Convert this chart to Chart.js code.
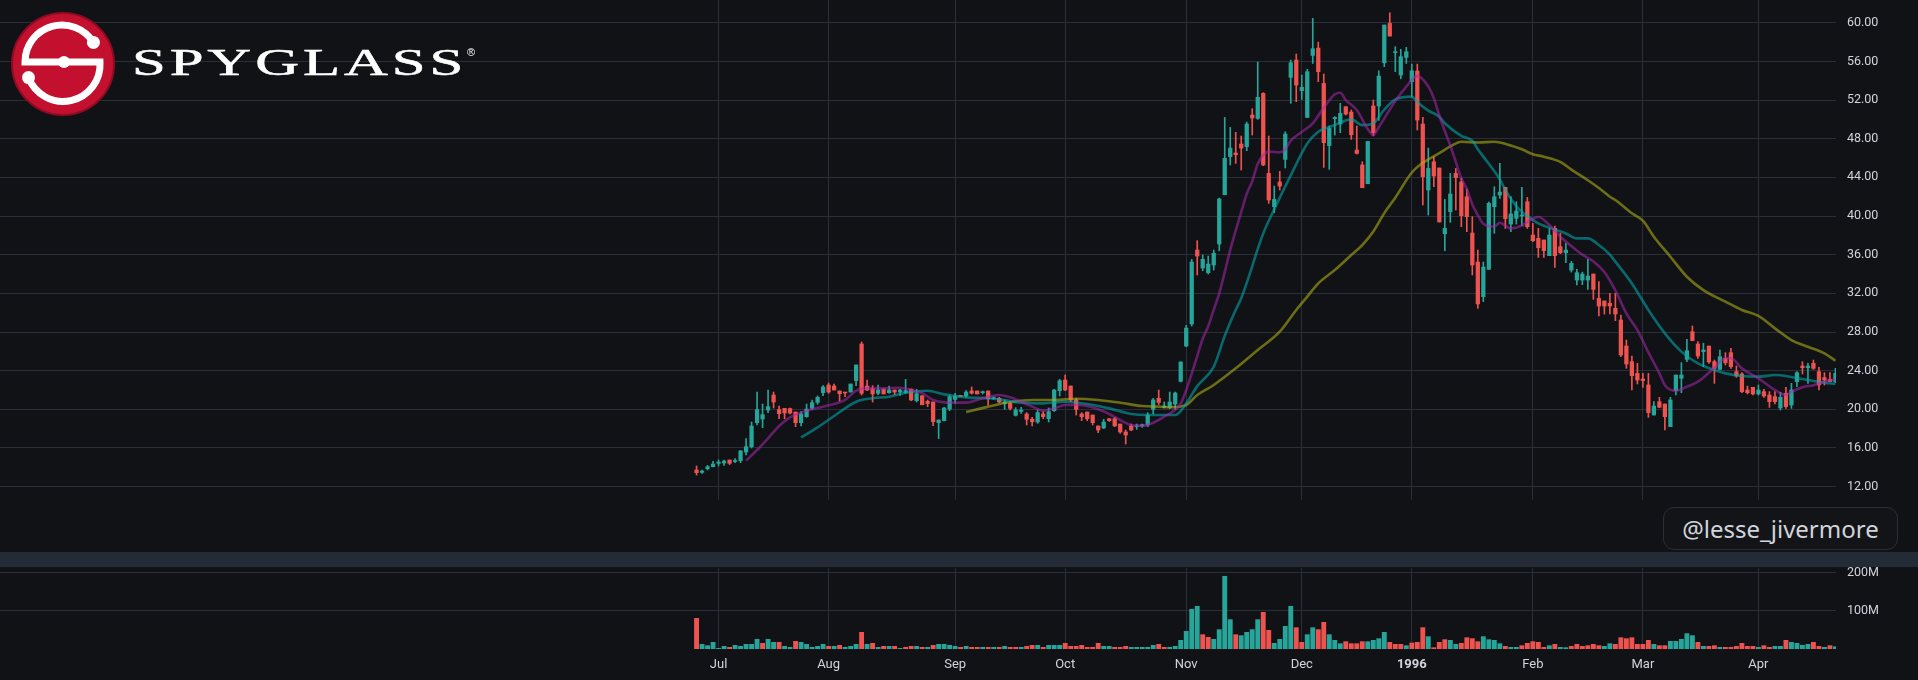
<!DOCTYPE html>
<html>
<head>
<meta charset="utf-8">
<title>SPYG 1995-96</title>
<script src="https://cdn.jsdelivr.net/npm/chart.js@4.4.1/dist/chart.umd.min.js"></script>
<style>
  html, body { margin: 0; padding: 0; width: 1918px; height: 680px; overflow: hidden; background: #111216; }
  .layer { position: absolute; left: 0; }
  #band { position: absolute; left: 0; top: 552px; width: 1918px; height: 15px; background: #252a37; }
  #tag {
    position: absolute; left: 1663px; top: 507px; width: 233px; height: 41px;
    border: 1px solid #2b2e38; border-radius: 11px; background: #131418;
    color: #d1d4dc; font: 24px "Noto Sans", sans-serif;
    display: flex; align-items: center; justify-content: center;
  }
  #logo { position: absolute; left: 0; top: 0; }
</style>
</head>
<body>
<div id="band"></div>
<canvas id="price" class="layer" style="top:0" width="1918" height="500"></canvas>
<canvas id="volume" class="layer" style="top:566px" width="1918" height="114"></canvas>

<svg id="logo" width="500" height="125">
  <circle cx="63" cy="64" r="51" fill="#c3102f" stroke="#8e0b22" stroke-width="2"/>
  <path d="M93.4,42.4 A37,37 0 0 0 25,62 L100,62 A37,37 0 0 1 28.5,77.6"
        fill="none" stroke="#fff" stroke-width="7"/>
  <circle cx="93.4" cy="42.4" r="6.5" fill="#fff"/>
  <circle cx="28.5" cy="77.6" r="6.5" fill="#fff"/>
  <circle cx="64" cy="62" r="6" fill="#fff"/>
  <text transform="translate(132,75) scale(1.6,1)" x="0" y="0" font-family="Liberation Serif"
        font-size="38" fill="#fff" stroke="#fff" stroke-width="0.5"
        textLength="207" lengthAdjust="spacing">SPYGLASS</text>
  <text x="467" y="56" font-family="Liberation Sans" font-size="11" fill="#fff">®</text>
</svg>

<div id="tag">@lesse_jivermore</div>

<script>
// Daily candles, trading day 0 = first session (late June 1995)
const opens = [
  13.72, 13.48, 13.86, 14.07, 14.41, 14.45, 14.76, 14.6, 14.69, 15.59,
  16.14, 18.62, 19.0, 19.93, 21.48, 19.97, 20.1, 20.07, 19.72, 18.62,
  19.24, 20.1, 20.72, 21.72, 22.52, 22.41, 21.9, 21.76, 21.79, 22.97,
  26.76, 22.41, 22.14, 21.66, 22.1, 21.72, 22.0, 21.79, 21.72, 22.1,
  20.9, 21.41, 20.83, 20.76, 18.62, 18.83, 20.03, 21.03, 21.45, 21.38,
  21.9, 21.9, 21.72, 21.9, 21.1, 21.14, 20.62, 20.62, 19.38, 19.79,
  19.52, 18.97, 18.69, 19.52, 19.03, 19.86, 21.93, 23.03, 22.41, 20.97,
  19.52, 19.72, 19.41, 18.28, 18.07, 19.03, 19.03, 18.48, 17.66, 18.28,
  18.21, 18.28, 18.38, 20.0, 21.14, 20.2, 20.21, 20.55, 22.9, 26.55,
  28.83, 36.48, 34.62, 34.14, 34.93, 37.1, 42.2, 46.14, 46.52, 47.45,
  47.17, 50.45, 50.1, 52.69, 44.41, 40.97, 43.52, 45.86, 54.34, 56.14,
  52.97, 50.2, 56.62, 57.38, 53.72, 47.28, 50.07, 49.52, 51.31, 50.76,
  46.83, 45.28, 43.34, 51.38, 51.38, 55.86, 59.93, 56.9, 54.59, 56.41,
  53.9, 55.0, 49.52, 42.69, 45.62, 44.97, 38.17, 40.45, 44.41, 43.52,
  42.0, 38.24, 35.24, 31.66, 34.48, 40.97, 42.17, 42.97, 39.17, 39.76,
  40.0, 41.48, 38.03, 37.69, 37.52, 35.9, 38.72, 36.83, 36.21, 34.41,
  33.38, 33.38, 33.38, 34.0, 31.48, 31.21, 30.97, 30.45, 29.24, 26.55,
  24.93, 23.72, 23.14, 22.52, 19.41, 20.79, 20.55, 18.21, 21.93, 23.21,
  25.17, 28.03, 26.76, 25.97, 26.55, 24.93, 24.14, 25.28, 25.86, 23.9,
  23.66, 22.0, 22.28, 21.59, 21.83, 21.48, 21.31, 20.14, 21.66, 20.45,
  22.86, 24.48, 24.31, 24.76, 23.9, 23.28, 23.1, 22.86
];
const highs = [
  14.14, 13.72, 14.2, 14.62, 14.76, 14.76, 14.76, 14.9, 15.76, 16.97,
  18.69, 21.79, 20.55, 22.0, 21.79, 20.34, 20.1, 20.14, 19.72, 19.76,
  20.55, 20.97, 21.38, 22.45, 22.72, 22.62, 21.9, 21.76, 22.62, 24.59,
  26.97, 23.03, 22.45, 22.52, 22.1, 22.41, 22.0, 22.07, 23.1, 22.1,
  22.07, 21.41, 20.97, 20.76, 18.9, 20.21, 21.48, 21.66, 21.45, 21.93,
  22.31, 21.9, 21.9, 21.9, 21.31, 21.24, 20.97, 20.79, 20.17, 20.21,
  19.66, 19.17, 19.93, 19.76, 20.14, 22.07, 23.1, 23.55, 22.41, 21.14,
  19.66, 19.72, 19.41, 18.28, 18.97, 19.03, 19.17, 18.48, 17.86, 18.48,
  18.48, 18.48, 19.66, 21.14, 22.0, 20.76, 21.79, 21.79, 24.9, 28.69,
  35.52, 37.45, 35.97, 35.86, 36.48, 41.86, 50.2, 49.17, 48.66, 48.28,
  49.72, 51.1, 55.93, 52.76, 48.28, 43.1, 44.62, 48.72, 56.14, 56.76,
  54.59, 55.17, 60.45, 58.0, 54.69, 49.31, 50.28, 51.66, 51.31, 50.97,
  49.31, 45.62, 47.72, 52.0, 55.03, 59.76, 61.03, 57.52, 57.24, 57.45,
  55.72, 55.72, 50.21, 47.03, 46.14, 44.97, 41.72, 44.41, 44.93, 43.9,
  42.76, 39.93, 36.48, 35.24, 41.45, 43.03, 45.45, 42.97, 42.0, 41.48,
  42.97, 41.93, 39.24, 38.72, 37.52, 38.72, 38.97, 38.21, 37.17, 35.3,
  34.48, 34.2, 35.52, 34.0, 33.21, 31.21, 32.0, 32.0, 29.76, 27.17,
  25.52, 24.76, 23.72, 23.72, 20.79, 21.24, 20.55, 21.24, 23.55, 24.83,
  27.24, 28.62, 27.0, 26.83, 26.55, 25.1, 26.14, 25.86, 26.31, 24.48,
  23.79, 22.41, 22.28, 22.52, 22.07, 21.83, 21.83, 21.76, 22.28, 22.69,
  23.9, 24.93, 24.76, 25.1, 24.34, 23.79, 23.79, 24.24
];
const lows = [
  13.2, 13.38, 13.72, 14.03, 14.14, 14.2, 14.28, 14.48, 14.48, 15.28,
  16.0, 18.38, 18.1, 19.66, 20.14, 19.03, 19.03, 19.52, 18.2, 18.28,
  19.17, 20.0, 20.52, 21.41, 21.66, 22.0, 20.86, 21.31, 21.79, 22.45,
  21.48, 21.93, 20.76, 21.52, 21.59, 21.66, 21.52, 21.45, 21.66, 20.9,
  20.76, 20.45, 20.28, 18.31, 16.97, 18.79, 19.86, 20.62, 21.31, 21.24,
  21.59, 21.59, 21.59, 20.45, 21.03, 20.69, 20.0, 19.93, 19.31, 19.59,
  18.38, 18.28, 18.55, 19.03, 18.69, 19.79, 21.38, 21.93, 20.79, 19.41,
  18.83, 18.83, 18.38, 17.59, 18.0, 18.76, 18.21, 17.52, 16.41, 17.79,
  17.93, 18.14, 18.21, 19.52, 20.5, 20.14, 20.07, 20.0, 22.83, 26.48,
  28.62, 33.9, 34.34, 34.0, 34.41, 36.41, 42.2, 45.28, 45.45, 44.76,
  46.76, 48.38, 50.0, 45.21, 41.31, 40.34, 42.69, 44.97, 51.66, 51.83,
  52.07, 50.2, 55.79, 53.9, 45.03, 44.83, 48.38, 48.62, 50.45, 47.93,
  46.41, 42.93, 43.34, 48.28, 49.9, 55.45, 58.62, 54.93, 54.2, 55.79,
  52.34, 48.9, 41.14, 40.1, 43.03, 39.38, 36.41, 39.34, 40.62, 38.9,
  38.38, 33.9, 30.45, 31.14, 34.48, 38.21, 41.83, 38.72, 38.38, 39.17,
  39.0, 38.72, 37.34, 35.72, 35.72, 35.9, 34.69, 36.1, 35.17, 34.2,
  32.86, 32.9, 32.41, 31.38, 29.66, 29.86, 29.86, 29.17, 25.45, 24.24,
  22.0, 22.62, 22.28, 19.17, 19.41, 20.21, 17.86, 18.21, 21.48, 21.72,
  24.93, 27.1, 25.28, 24.41, 24.76, 22.69, 24.07, 24.59, 24.24, 23.31,
  21.72, 21.59, 21.48, 21.48, 21.24, 20.21, 20.55, 19.93, 20.1, 20.1,
  22.34, 23.66, 22.69, 24.14, 22.0, 22.52, 22.86, 22.76
];
const closes = [
  13.45, 13.62, 14.07, 14.34, 14.55, 14.65, 14.41, 14.66, 15.69, 16.14,
  18.28, 19.97, 19.45, 20.28, 20.76, 19.55, 19.62, 19.62, 18.62, 19.52,
  20.03, 20.69, 21.24, 22.31, 21.79, 22.0, 21.62, 21.69, 22.62, 24.59,
  21.66, 22.0, 21.59, 22.0, 21.59, 22.0, 21.79, 22.0, 21.93, 20.97,
  21.62, 20.48, 20.59, 18.72, 18.9, 20.14, 21.31, 21.38, 21.31, 21.79,
  21.66, 21.59, 21.79, 21.1, 21.2, 20.76, 20.76, 20.1, 19.93, 19.93,
  18.97, 18.72, 19.66, 19.24, 19.76, 22.0, 22.97, 22.0, 20.97, 20.0,
  19.24, 19.03, 18.62, 17.86, 18.69, 18.83, 18.28, 17.66, 17.34, 17.86,
  18.28, 18.41, 19.41, 20.97, 20.72, 20.34, 20.76, 21.69, 24.9, 28.41,
  35.24, 35.86, 35.52, 35.03, 36.14, 41.76, 45.97, 47.03, 46.34, 47.03,
  49.52, 50.14, 52.28, 45.28, 41.66, 41.72, 43.1, 48.48, 55.86, 53.55,
  53.31, 54.93, 57.31, 54.93, 47.59, 49.07, 50.2, 50.62, 50.55, 48.41,
  46.48, 42.93, 47.72, 48.62, 54.48, 59.76, 58.62, 56.97, 56.48, 57.0,
  55.03, 49.93, 44.07, 44.93, 44.14, 39.38, 38.72, 42.28, 43.97, 40.03,
  39.93, 34.93, 30.9, 34.72, 41.31, 42.0, 42.48, 39.72, 40.21, 40.52,
  40.07, 38.9, 37.45, 36.72, 36.41, 38.03, 35.9, 36.21, 36.48, 35.1,
  34.14, 34.0, 33.79, 32.41, 30.69, 30.69, 30.69, 29.86, 25.62, 24.69,
  23.48, 23.03, 22.97, 19.66, 20.34, 20.21, 19.24, 20.97, 23.55, 23.55,
  26.07, 27.1, 25.52, 26.14, 24.9, 24.24, 25.45, 24.83, 24.41, 23.45,
  21.83, 21.72, 21.59, 22.0, 21.38, 20.79, 20.79, 21.24, 20.28, 22.0,
  23.79, 24.31, 24.48, 24.24, 22.52, 23.03, 22.86, 23.72
];
// volume in millions of shares
const volumes = [
  80.7, 12.3, 8.8, 17.5, 1.8, 7.0, 4.4, 9.6, 7.0, 12.3,
  12.3, 25.4, 14.9, 25.4, 17.5, 17.5, 7.0, 4.4, 20.2, 17.5,
  12.3, 4.4, 7.0, 12.3, 7.0, 7.0, 9.6, 4.4, 7.0, 12.3,
  43.9, 12.3, 14.9, 4.4, 7.0, 7.0, 7.0, 1.8, 4.4, 7.0,
  7.0, 4.4, 4.4, 9.6, 12.3, 12.3, 9.6, 7.0, 4.4, 7.0,
  4.4, 4.4, 4.4, 4.4, 4.4, 4.4, 7.0, 4.4, 4.4, 4.4,
  7.0, 9.6, 9.6, 4.4, 9.6, 9.6, 9.6, 14.9, 7.0, 7.0,
  9.6, 4.4, 4.4, 14.9, 7.0, 7.0, 4.4, 4.4, 7.0, 4.4,
  4.4, 4.4, 4.4, 9.6, 12.3, 4.4, 4.4, 7.0, 22.8, 46.5,
  104.4, 112.3, 37.7, 30.7, 25.4, 50.9, 191.2, 77.2, 37.7, 35.1,
  43.9, 50.9, 77.2, 96.5, 49.1, 14.9, 25.4, 59.6, 112.3, 56.1,
  17.5, 37.7, 56.1, 50.9, 70.2, 37.7, 22.8, 14.0, 19.3, 14.0,
  14.0, 19.3, 19.3, 22.8, 27.2, 43.9, 17.5, 12.3, 12.3, 8.8,
  15.8, 17.5, 56.1, 32.5, 3.5, 17.5, 24.6, 22.8, 12.3, 14.9,
  29.8, 27.2, 19.3, 32.5, 24.6, 22.8, 14.0, 7.0, 4.4, 4.4,
  8.8, 14.9, 19.3, 17.5, 4.4, 8.8, 12.3, 4.4, 3.5, 7.0,
  12.3, 7.0, 8.8, 12.3, 8.8, 7.0, 14.0, 12.3, 29.8, 27.2,
  29.8, 12.3, 12.3, 22.8, 12.3, 8.8, 8.8, 20.2, 20.2, 25.4,
  40.4, 35.1, 17.5, 7.0, 7.0, 8.8, 4.4, 4.4, 4.4, 7.0,
  14.9, 7.0, 7.0, 4.4, 8.8, 4.4, 7.0, 7.0, 22.8, 17.5,
  14.9, 9.6, 12.3, 17.5, 7.0, 4.4, 8.8, 6.0
];

// moving averages (trading day, value)
const ma10Days = [9, 11, 13, 15, 17, 19, 21, 24, 27, 29, 31, 34, 37, 39, 41, 43, 45, 47, 49, 51,
  53, 55, 57, 59, 61, 63, 65, 67, 69, 71, 73, 75, 77, 79, 81, 83, 85, 88, 89, 90,
  91, 92, 93, 94, 95, 96, 97, 98, 99, 100, 101, 102, 103, 104, 106, 107, 108, 110, 112, 114,
  116, 117, 118, 120, 122, 123, 124, 127, 129, 131, 133, 134, 135, 136, 137, 138, 139, 140, 141, 142,
  143, 145, 146, 148, 150, 151, 153, 155, 157, 159, 161, 163, 165, 167, 169, 171, 173, 175, 176, 178,
  180, 182, 185, 187, 188, 190, 193, 194, 196, 198, 199, 201, 203, 205, 207];
const ma10Values = [14.69, 15.79, 17.0, 18.28, 19.17, 19.66, 20.0, 20.41, 20.97, 21.93, 22.17, 22.17, 22.24, 22.0, 21.66, 20.97, 20.72, 20.69, 20.69, 20.97,
  21.31, 21.48, 21.24, 20.79, 20.28, 19.86, 20.1, 20.45, 20.45, 20.34, 20.0, 19.52, 18.9, 18.38, 18.31, 18.62, 19.24, 20.6, 22.0, 23.7,
  25.5, 27.3, 28.6, 30.3, 32.0, 34.2, 36.5, 38.5, 40.4, 42.3, 43.6, 45.4, 46.3, 46.66, 46.6, 46.9, 47.8, 48.7, 49.59, 51.2,
  52.6, 52.76, 52.0, 50.97, 49.0, 48.38, 49.2, 51.9, 53.38, 54.5, 53.4, 52.2, 50.4, 48.8, 47.3, 45.6, 43.9, 42.8, 41.2, 40.1,
  39.2, 38.9, 39.3, 38.72, 39.0, 39.4, 39.9, 39.07, 37.86, 36.9, 36.0, 35.3, 34.2, 32.3, 29.93, 28.2, 25.9, 23.72, 22.5, 21.93,
  22.34, 22.86, 24.3, 25.28, 25.28, 24.24, 23.2, 22.8, 22.0, 21.48, 21.8, 22.28, 22.5, 22.86, 23.1];

const ma20Days = [19, 22, 25, 29, 32, 35, 38, 42, 45, 49, 53, 55, 59, 63, 67, 71, 75, 79, 82, 85,
  87, 89, 91, 94, 96, 98, 99, 101, 102, 103, 105, 108, 111, 113, 116, 119, 121, 123, 125, 127,
  130, 131, 133, 135, 136, 139, 141, 142, 144, 146, 147, 149, 150, 152, 153, 156, 158, 160, 162, 164,
  166, 167, 170, 173, 176, 179, 182, 185, 187, 190, 193, 196, 199, 202, 205, 207];
const ma20Values = [17.1, 18.14, 19.31, 20.79, 21.14, 21.31, 21.72, 21.93, 21.55, 21.24, 21.14, 21.03, 20.69, 20.62, 20.79, 20.55, 20.1, 19.52, 19.41, 19.41,
  19.41, 20.62, 22.4, 24.41, 27.6, 30.3, 31.5, 34.8, 36.6, 38.2, 40.7, 44.2, 47.5, 48.72, 49.41, 50.0, 49.4, 49.59, 51.0, 52.07,
  52.35, 51.8, 50.9, 50.28, 49.6, 48.3, 47.8, 46.9, 45.4, 43.8, 42.7, 41.0, 40.45, 39.6, 39.24, 38.6, 38.2, 37.69, 37.69, 37.0,
  36.0, 35.28, 33.03, 30.28, 27.86, 25.97, 24.76, 24.07, 23.72, 23.45, 23.38, 23.55, 23.35, 23.03, 22.76, 22.62];

const ma50Days = [49, 53, 57, 61, 65, 69, 73, 77, 81, 84, 86, 89, 91, 94, 98, 102, 106, 109, 111, 113,
  116, 119, 121, 123, 125, 127, 130, 132, 135, 137, 139, 142, 145, 148, 150, 152, 154, 157, 159, 162,
  164, 166, 167, 170, 172, 174, 177, 180, 183, 187, 190, 193, 196, 199, 202, 205, 207];
const ma50Values = [19.72, 20.28, 20.76, 20.97, 20.97, 21.1, 20.97, 20.69, 20.34, 20.28, 20.21, 20.45, 21.48, 22.52, 24.24, 26.14, 28.03, 30.28, 31.66, 33.03,
  34.41, 35.97, 37.0, 38.4, 40.3, 41.9, 44.5, 45.5, 46.5, 47.2, 47.69, 47.6, 47.69, 47.3, 46.9, 46.4, 46.14, 45.6, 44.8, 43.7,
  42.9, 42.0, 41.66, 40.28, 39.52, 37.86, 35.79, 33.72, 32.34, 31.14, 30.28, 29.66, 28.38, 27.17, 26.48, 25.79, 25.03];

// axis ticks
const monthTickDays = [4, 24, 47, 67, 89, 110, 130, 152, 172, 193];
const monthTickLabels = ['Jul', 'Aug', 'Sep', 'Oct', 'Nov', 'Dec', '1996', 'Feb', 'Mar', 'Apr'];
const priceTicks = [12, 16, 20, 24, 28, 32, 36, 40, 44, 48, 52, 56, 60];
const volumeTicks = [100, 200];

const UP = '#26a69a';
const DOWN = '#ef5350';
const GRID = '#2a2e39';
const TEXT = '#d1d4dc';
const FONT = 'Roboto, "Noto Sans", sans-serif';

// x range of the visible window, in trading days
const X_MIN = -126.6;
const X_MAX = 207.1;

const days = closes.map((_, i) => i);
const candleColors = days.map((i) => (closes[i] >= opens[i] ? UP : DOWN));
const volumeColors = days.map((i) => {
  const up = i === 0 ? closes[i] >= opens[i] : closes[i] >= closes[i - 1];
  return up ? UP : DOWN;
});

function maLine(daysArr, values, color) {
  return {
    type: 'line',
    data: daysArr.map((d, k) => ({ x: d, y: values[k] })),
    borderColor: color,
    borderWidth: 2.6,
    pointRadius: 0,
    cubicInterpolationMode: 'monotone',
    order: 0,
  };
}

// chart.js reserves room for edge labels; the chart area should fill the canvas
function noEdgePadding(axis) {
  axis.paddingLeft = 0;
  axis.paddingRight = 0;
  axis.paddingTop = 0;
  axis.paddingBottom = 0;
}

function monthAxis(showLabels) {
  return {
    type: 'linear',
    min: X_MIN,
    max: X_MAX,
    offset: false,
    afterBuildTicks: (axis) => {
      axis.ticks = monthTickDays.map((v) => ({ value: v }));
    },
    afterFit: (axis) => {
      axis.height = showLabels ? 31 : 0;
      noEdgePadding(axis);
    },
    grid: { color: GRID, drawTicks: false, offset: false },
    border: { display: false },
    ticks: {
      display: showLabels,
      autoSkip: false,
      maxRotation: 0,
      padding: 8,
      color: TEXT,
      font: (ctx) => {
        const k = ctx.tick ? monthTickDays.indexOf(ctx.tick.value) : -1;
        const isYear = k >= 0 && /^\d{4}$/.test(monthTickLabels[k]);
        return { family: FONT, size: 13, weight: isYear ? 'bold' : 'normal' };
      },
      callback: (v) => {
        const k = monthTickDays.indexOf(v);
        return k >= 0 ? monthTickLabels[k] : '';
      },
    },
  };
}

function valueAxis(min, max, tickValues, fmt) {
  return {
    position: 'right',
    min: min,
    max: max,
    afterBuildTicks: (axis) => {
      axis.ticks = tickValues.map((v) => ({ value: v }));
    },
    afterFit: (axis) => {
      axis.width = 82;
      noEdgePadding(axis);
    },
    grid: { color: GRID, drawTicks: false },
    border: { display: false },
    ticks: {
      padding: 11,
      color: TEXT,
      font: { family: FONT, size: 12.5 },
      callback: fmt,
    },
  };
}

const baseOptions = {
  responsive: false,
  animation: false,
  events: [],
  layout: { padding: 0 },
  plugins: { legend: { display: false }, tooltip: { enabled: false } },
};

new Chart(document.getElementById('price'), {
  type: 'bar',
  data: {
    datasets: [
      maLine(ma10Days, ma10Values, 'rgba(170, 40, 175, 0.55)'),
      maLine(ma20Days, ma20Values, 'rgba(0, 168, 170, 0.58)'),
      maLine(ma50Days, ma50Values, 'rgba(172, 172, 20, 0.6)'),
      {
        data: days.map((i) => ({ x: i, y: [opens[i], closes[i]] })),
        backgroundColor: candleColors,
        barThickness: 3.6,
        minBarLength: 1,
        grouped: false,
        order: 2,
      },
      {
        data: days.map((i) => ({ x: i, y: [lows[i], highs[i]] })),
        backgroundColor: candleColors,
        barThickness: 1,
        grouped: false,
        order: 3,
      },
    ],
  },
  options: {
    ...baseOptions,
    scales: {
      x: monthAxis(false),
      y: valueAxis(10.62, 62.35, priceTicks, (v) => v.toFixed(2)),
    },
  },
});

new Chart(document.getElementById('volume'), {
  type: 'bar',
  data: {
    datasets: [
      {
        data: days.map((i) => ({ x: i, y: volumes[i] })),
        backgroundColor: volumeColors,
        barThickness: 4.2,
        grouped: false,
      },
    ],
  },
  options: {
    ...baseOptions,
    layout: { padding: { top: 2 } },
    scales: {
      x: monthAxis(true),
      y: valueAxis(0, 213, volumeTicks, (v) => v + 'M'),
    },
  },
});
</script>
</body>
</html>
